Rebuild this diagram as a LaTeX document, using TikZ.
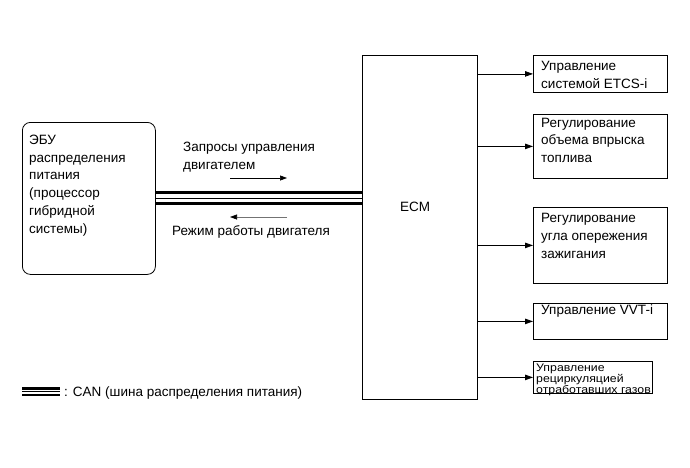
\documentclass[tikz,border=0pt]{standalone}
\usepackage{fontspec}
\setmainfont{Liberation Sans}
\newfontfamily\widesans[FakeStretch=1.12]{Liberation Sans}
\usetikzlibrary{arrows.meta}
\begin{document}
\begin{tikzpicture}[x=1pt,y=-1pt,
  box/.style={draw, line width=0.8pt, inner sep=0pt, anchor=north west},
  txt/.style={anchor=north west, inner sep=0pt, align=left, font=\fontsize{13.5}{17.8}\selectfont},
  smalltxt/.style={anchor=north west, inner sep=0pt, align=left, font=\widesans\fontsize{11}{8.9}\selectfont},
  arr/.style={-{Triangle[length=8pt,width=5.5pt]}, line width=0.8pt},
  sarr/.style={-{Triangle[length=7pt,width=5pt]}, line width=0.7pt},
  bus/.style={line width=3pt},
  busthin/.style={line width=1pt}]
\useasboundingbox (0,0) rectangle (690,467);

% boxes
\node[box, rounded corners=8pt, minimum width=133pt, minimum height=152pt] (ecu) at (22,122) {};
\node[box, minimum width=115pt, minimum height=344pt] (ecm) at (362,55) {};
\node[box, minimum width=134pt, minimum height=37pt] (b1) at (533,55) {};
\node[box, minimum width=134pt, minimum height=64pt] (b2) at (533,114) {};
\node[box, minimum width=134pt, minimum height=76pt] (b3) at (533,207) {};
\node[box, minimum width=134pt, minimum height=36pt] (b4) at (533,303) {};
\node[box, minimum width=119pt, minimum height=32pt] (b5) at (533,361) {};

% texts
\node[txt] (ecut) at (29,134.6) {ЭБУ\\распределения\\питания\\(процессор\\гибридной\\системы)};
\node[anchor=base, inner sep=0pt, font=\fontsize{13.5}{16}\selectfont] (ecmt) at (415,211) {ECM};
\node[txt] (b1t) at (541,61.3) {Управление\\системой ETCS-i};
\node[txt] (b2t) at (541,117.6) {Регулирование\\объема впрыска\\топлива};
\node[txt] (b3t) at (541,213) {Регулирование\\угла опережения\\зажигания};
\node[txt] (b4t) at (541,304.6) {Управление VVT-i};
\node[smalltxt] (b5t) at (536,363.3) {Управление\\рециркуляцией\\отработавших газов};

\node[txt] (reqt) at (183,142) {Запросы управления\\двигателем};
\node[txt] (modet) at (172,225.3) {Режим работы двигателя};

% bus
\draw[bus] ([yshift=5.5pt]ecu.east) -- ([yshift=5.5pt]ecu.east -| ecm.west);
\draw[busthin] (ecu.east) -- (ecu.east -| ecm.west);
\draw[bus] ([yshift=-5.5pt]ecu.east) -- ([yshift=-5.5pt]ecu.east -| ecm.west);

% direction arrows
\coordinate (r1) at (230,178);
\coordinate (r2) at (287,178);
\coordinate (m1) at (287,217);
\coordinate (m2) at (230,217);
\draw[sarr] (r1) -- (r2);
\draw[-{Triangle[length=7pt,width=5pt,color=black]}, line width=0.7pt, black!55] (m1) -- (m2);

% outputs
\foreach \b in {b1,b2,b3,b4,b5}
  \draw[arr] (ecm.east |- \b.west) -- (\b.west);

% legend
\coordinate (l1) at (22,388.5);
\coordinate (l2) at (60,388.5);
\draw[line width=2.5pt] (l1) -- (l2);
\draw[line width=0.8pt] ([yshift=-3.3pt]l1) -- ([yshift=-3.3pt]l2);
\draw[line width=2.5pt] ([yshift=-6.6pt]l1) -- ([yshift=-6.6pt]l2);
\node[anchor=base west, inner sep=0pt, font=\fontsize{13.5}{16}\selectfont] (legt) at (64,396.5) {: CAN (шина распределения питания)};
\end{tikzpicture}
\end{document}
